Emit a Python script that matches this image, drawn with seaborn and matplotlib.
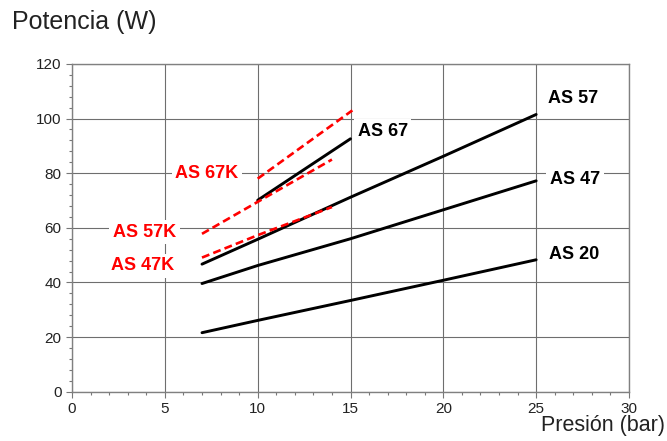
import pandas as pd
import matplotlib
matplotlib.use("Agg")
import matplotlib.pyplot as plt
from matplotlib.ticker import MultipleLocator
import seaborn as sns

# curvas de potencia frente a presion
as20_x = [7, 10, 15, 20, 25]
as20_y = [21.6, 26.1, 33.4, 40.8, 48.3]
as47_x = [7, 10, 15, 20, 25]
as47_y = [39.6, 46.2, 56.0, 66.6, 77.2]
as57_x = [7, 10, 15, 20, 25]
as57_y = [46.7, 55.8, 71.2, 86.2, 101.5]
as67_x = [10, 15]
as67_y = [70.1, 92.6]
as67k_x = [10, 15.1]
as67k_y = [78.0, 103.0]
as57k_x = [7, 10, 14]
as57k_y = [57.8, 69.5, 85.0]
as47k_x = [7, 10, 14]
as47k_y = [49.1, 57.3, 67.6]

series = [
    ("AS 20", as20_x, as20_y, "black", False),
    ("AS 47", as47_x, as47_y, "black", False),
    ("AS 57", as57_x, as57_y, "black", False),
    ("AS 67", as67_x, as67_y, "black", False),
    ("AS 67K", as67k_x, as67k_y, "#ff0000", True),
    ("AS 57K", as57k_x, as57k_y, "#ff0000", True),
    ("AS 47K", as47k_x, as47k_y, "#ff0000", True),
]

# etiquetas: texto, x, y, alineacion, color
labels = [
    ("AS 67K", 7.26, 80.0, "center", "#ff0000"),
    ("AS 57K", 3.9, 58.4, "center", "#ff0000"),
    ("AS 47K", 3.82, 46.1, "center", "#ff0000"),
    ("AS 67", 15.38, 95.4, "left", "black"),
    ("AS 57", 25.65, 107.5, "left", "black"),
    ("AS 47", 25.75, 77.8, "left", "black"),
    ("AS 20", 25.7, 50.3, "left", "black"),
]

sns.set_style("white")
plt.rcParams['font.family'] = ['Liberation Sans', 'DejaVu Sans']

fig = plt.figure(figsize=(6.67, 4.41), dpi=100)
ax = fig.add_axes([0.108, 0.1118, 0.835, 0.7432])

for name, xs, ys, color, dashed in series:
    df = pd.DataFrame({"x": xs, "y": ys})
    line = sns.lineplot(data=df, x="x", y="y", ax=ax, color=color,
                        linewidth=1.9 if dashed else 2.1, sort=False)
    if dashed:
        ax.lines[-1].set_dashes((3, 1.6))
    ax.lines[-1].set_zorder(4)

for txt, x, y, ha, color in labels:
    ax.text(x, y, txt, ha=ha, va="center", color=color, fontsize=13,
            fontweight="bold", zorder=3,
            bbox=dict(facecolor="white", edgecolor="none", boxstyle="square,pad=0.2"))

ax.set_xlim(0, 30)
ax.set_ylim(0, 120)
ax.xaxis.set_major_locator(MultipleLocator(5))
ax.xaxis.set_minor_locator(MultipleLocator(1))
ax.yaxis.set_major_locator(MultipleLocator(20))
ax.yaxis.set_minor_locator(MultipleLocator(4))
ax.grid(True, which="major", color="#6e6e6e", linewidth=0.8, zorder=1)
ax.set_axisbelow(True)
ax.tick_params(which="major", direction="out", length=4, width=0.8, color="#777777",
               labelsize=11, labelcolor="#222222", bottom=True, left=True)
ax.tick_params(which="minor", direction="out", length=2.5, width=0.8, color="#777777",
               bottom=True, left=True)
for s in ax.spines.values():
    s.set_color("#808080")
    s.set_linewidth(1.0)
ax.set_xlabel("")
ax.set_ylabel("")

fig.text(0.018, 0.95, "Potencia (W)", fontsize=18, color="#222222", ha="left", va="center")
fig.text(0.997, 0.036, "Presión (bar)", fontsize=15.5, color="#222222", ha="right", va="center")

fig.savefig("out.png", dpi=100)
